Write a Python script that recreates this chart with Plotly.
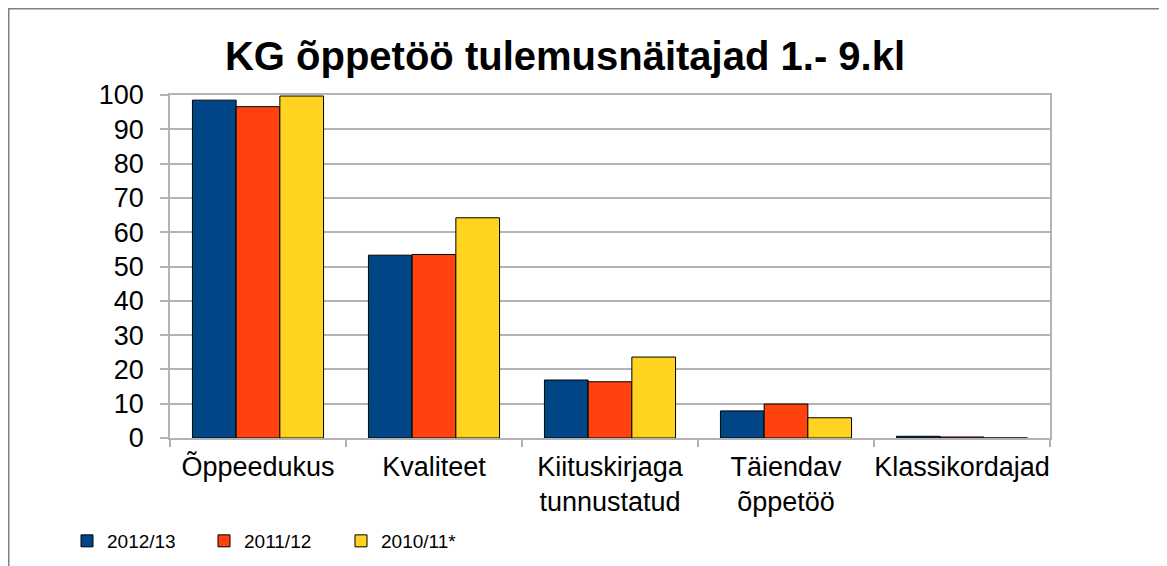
import plotly.graph_objects as go

categories = ["Õppeedukus", "Kvaliteet", "Kiituskirjaga<br>tunnustatud", "Täiendav<br>õppetöö", "Klassikordajad"]
series_names = ["2012/13", "2011/12", "2010/11*"]
values_2012 = [98.5, 53.3, 16.9, 7.9, 0.5]
values_2011 = [96.6, 53.5, 16.4, 9.9, 0.3]
values_2010 = [99.7, 64.2, 23.6, 5.9, 0.0]
colors = ["#004586", "#ff420e", "#ffd320"]
y_ticks = list(range(0, 101, 10))

FONT = "Liberation Sans, Arial, sans-serif"

fig = go.Figure()
for name, vals, col in zip(series_names, [values_2012, values_2011, values_2010], colors):
    fig.add_trace(go.Bar(
        x=categories, y=vals, name=name,
        marker=dict(color=col, line=dict(color="#000000", width=1)),
    ))

W, H = 1167, 566
OFF = 8  # page offset of the rendered figure
L, R, T, B = 170 - OFF, 1050 - OFF, 95 - OFF, 438 - OFF

def px(x):
    """screen x -> paper x"""
    return (x - OFF - L) / (R - L)

def py(y):
    """screen y -> paper y"""
    return (B - (y - OFF)) / (B - T)

fig.update_layout(
    width=W, height=H,
    margin=dict(l=L, r=W - R, t=T, b=H - B, autoexpand=False),
    paper_bgcolor="white", plot_bgcolor="white",
    barmode="group", bargap=0.255, bargroupgap=0,
    font=dict(family=FONT, color="#000000"),
    title=dict(text="<b>KG õppetöö tulemusnäitajad 1.- 9.kl</b>",
               x=(565 - OFF) / W, xanchor="center", xref="container",
               y=1 - (56 - OFF) / H, yanchor="middle", yref="container",
               font=dict(size=40, family=FONT, color="#000000")),
    showlegend=True,
    legend=dict(orientation="h", x=px(67), xanchor="left",
                y=py(522), yanchor="top",
                font=dict(size=19, family=FONT), entrywidth=92, entrywidthmode="pixels",
                itemwidth=30, tracegroupgap=0, traceorder="normal"),
    xaxis=dict(showline=True, linecolor="#b3b3b3", linewidth=1.5, mirror=True,
               ticks="outside", tickson="boundaries", ticklen=7, tickcolor="#b3b3b3", tickwidth=1.5,
               tickfont=dict(size=27, family=FONT, color="#000000"), showgrid=False,
               tickangle=0, ticklabelstandoff=4),
    yaxis=dict(range=[0, 100], tickvals=y_ticks, showline=True, linecolor="#b3b3b3", linewidth=1.5,
               mirror=True, ticks="outside", ticklen=8, tickcolor="#b3b3b3", tickwidth=1.5,
               showgrid=True, gridcolor="#b3b3b3", gridwidth=1.5,
               tickfont=dict(size=27, family=FONT, color="#000000"), zeroline=False,
               ticklabelstandoff=11),
)

# outer chart frame (right and bottom edges are cropped in the original)
fig.add_shape(type="rect", xref="paper", yref="paper",
              x0=(0.75 - L) / (R - L), x1=(1300 - L) / (R - L),
              y0=(B - 700) / (B - T), y1=(B - 0.75) / (B - T),
              line=dict(color="#808080", width=1.5), fillcolor="rgba(0,0,0,0)", layer="below")

fig.write_html("out.html")
